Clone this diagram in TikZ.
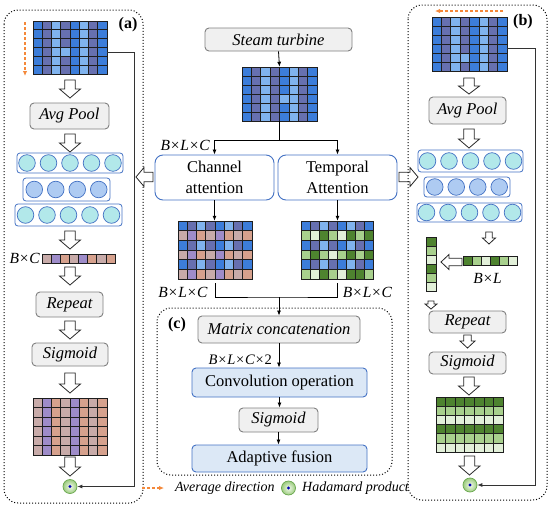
\documentclass[tikz,border=0pt]{standalone}
\usepackage{fontspec}
\setmainfont{Liberation Serif}
\usetikzlibrary{arrows.meta,calc}
\definecolor{bA}{HTML}{3C7DDA}
\definecolor{pA}{HTML}{6770B0}
\definecolor{lA}{HTML}{80B3EE}
\definecolor{pk}{HTML}{C8ABA9}
\definecolor{pu}{HTML}{9E8CC9}
\definecolor{sa}{HTML}{D6A18D}
\definecolor{dg}{HTML}{4E832F}
\definecolor{lg}{HTML}{A8D08D}
\definecolor{pg}{HTML}{E2F0D9}
\definecolor{cy}{HTML}{B2E8EA}
\definecolor{lbl}{HTML}{AECBF2}
\definecolor{bdr}{HTML}{4472C4}
\definecolor{gfill}{HTML}{F0F0F0}
\definecolor{gdraw}{HTML}{808080}
\definecolor{cfill}{HTML}{DCE8F6}
\definecolor{orng}{HTML}{F4883A}
\definecolor{gline}{HTML}{1E1E1E}
\definecolor{hadin}{HTML}{F2FAEC}
\definecolor{hadout}{HTML}{9CCB7E}
\definecolor{haddr}{HTML}{6AA84F}
\newcommand\cellgrid[5]{\foreach \rowc [count=\r from 0] in {#5}{\foreach \cc [count=\k from 0] in \rowc {\filldraw[fill=\cc,draw=gline,line width=0.7pt] ({#1+\k*#3},{#2+\r*#4}) rectangle ++(#3,#4);}}}
\newcommand\holarr[6]{\begin{scope}[shift={(#1,#2)},rotate=#3]
\draw[hol] ({-#5/4},0) -- ({#5/4},0) -- ({#5/4},{#4-#6}) -- ({#5/2},{#4-#6}) -- (0,#4) -- ({-#5/2},{#4-#6}) -- ({-#5/4},{#4-#6}) -- cycle;
\end{scope}}
\newcommand\circrow[7]{\node[crow, minimum width=#4, minimum height=#5] (#1) at (#2,#3) {};
\foreach \i in {1,...,#6} {\filldraw[fill=#7, draw=bdr, line width=0.7pt] ({#2+(\i-(#6+1)/2)*21.5},#3) circle (8.3pt);}}
\newcommand\bx{{\itshape B}\kern0.8pt×\kern0.8pt}
\tikzset{
 hol/.style={draw=black!85, fill=white, line width=0.8pt},
 crow/.style={draw=bdr, fill=white, rounded corners=3pt, line width=0.8pt, inner sep=0},
 gridn/.style={draw=none, inner sep=0},
 gbox/.style={draw=gdraw, fill=gfill, rounded corners=4pt, line width=0.9pt, inner sep=0, font=\itshape\fontsize{16.5}{19}\selectfont},
 abox/.style={draw=bdr, fill=white, rounded corners=8pt, line width=0.9pt, inner sep=0, align=center, font=\fontsize{16.5}{21}\selectfont},
 cbox/.style={draw=bdr, fill=cfill, rounded corners=4pt, line width=0.9pt, inner sep=0, font=\fontsize{16.5}{19}\selectfont},
 lab/.style={inner sep=0, font=\fontsize{15.5}{18}\selectfont},
 leg/.style={inner sep=0, font=\itshape\fontsize{14}{17}\selectfont},
 plab/.style={inner sep=0, font=\bfseries\fontsize{16}{19}\selectfont},
 panel/.style={draw=black, dotted, line width=1pt, rounded corners=14pt},
 arr/.style={draw=black, line width=0.8pt, -{Latex[length=5pt,width=4pt]}},
 conn/.style={draw=black!80, line width=0.8pt, -{Latex[length=5pt,width=4pt]}},
 avgdir/.style={draw=orng, line width=1.2pt, dash pattern=on 3pt off 2pt, -{Latex[length=5pt,width=4.5pt]}},
 had/.style={circle, minimum size=14pt, inner sep=0, draw=haddr, inner color=hadin, outer color=hadout, line width=0.7pt,
   path picture={\fill[blue!70!black] (path picture bounding box.center) circle (1.7pt);}},
}
\begin{document}
\begin{tikzpicture}[x=1pt,y=-1pt]
\useasboundingbox (0,0) rectangle (550,509);
\fill[white] (0,0) rectangle (550,509);
% ---------- panel (a)
\draw[panel] (4,10) rectangle (143,503);
\node[plab] (la) at (128,25) {(a)};
\draw[avgdir] (25,22) -- (25,76);
\node[gridn, minimum width=74, minimum height=53] (ga) at (70,47.5) {};
\cellgrid{33}{21}{9.25}{8.83}{{bA,pA,lA,pA,bA,lA,pA,bA},{bA,pA,lA,pA,bA,lA,pA,bA},{bA,pA,lA,pA,bA,lA,pA,bA},{bA,pA,lA,lA,bA,lA,pA,bA},{bA,pA,lA,pA,bA,lA,pA,bA},{bA,pA,lA,pA,bA,lA,pA,bA}}
\holarr{70}{80}{0}{18}{21}{9}
\node[gbox, minimum width=79, minimum height=26] (avgA) at (69.5,116) {Avg Pool};
\holarr{70}{134}{0}{18}{21}{9}
\circrow{ra1}{70}{163}{106}{20}{5}{cy}
\circrow{ra2}{66.5}{189.5}{87}{23}{4}{lbl}
\circrow{ra3}{68.5}{215}{107}{22}{5}{cy}
\holarr{70}{231}{0}{18}{21}{9}
\node[lab, anchor=east] (bcA) at (40,258.5) {\bx{\itshape C}};
\node[gridn, minimum width=73, minimum height=9] (barA) at (78.5,258.5) {};
\cellgrid{42}{254}{9.125}{9}{{pk,pu,sa,pk,pu,sa,pk,sa}}
\holarr{70}{267}{0}{18}{21}{9}
\node[gbox, minimum width=67, minimum height=25] (repA) at (69.5,304.5) {Repeat};
\holarr{70}{321}{0}{18}{21}{9}
\node[gbox, minimum width=76, minimum height=23] (sigA) at (70,354.5) {Sigmoid};
\holarr{70}{373}{0}{20}{21}{9}
\node[gridn, minimum width=74, minimum height=57] (goA) at (70,426.5) {};
\cellgrid{33}{398}{9.25}{9.5}{{pk,pu,sa,pk,pu,sa,pk,sa},{pk,pu,sa,pk,pu,sa,pk,sa},{pk,pu,sa,pk,pu,sa,pk,sa},{pk,pu,sa,pk,pu,sa,pk,sa},{pk,pu,sa,pk,pu,sa,pk,sa},{pk,pu,sa,pk,pu,sa,pk,sa}}
\holarr{70}{457}{0}{19}{21}{9}
\node[had] (hadA) at (70,486.5) {};
\draw[conn] ([yshift=-4.5pt]ga.east) -- ++(27,0) |- (hadA.east);
% ---------- center
\node[gbox, minimum width=147, minimum height=23] (steam) at (278.5,39.5) {Steam turbine};
\node[gridn, minimum width=75, minimum height=54] (g0) at (279.5,94) {};
\cellgrid{242}{67}{9.375}{9}{{bA,pA,lA,pA,bA,lA,pA,bA},{bA,pA,lA,pA,bA,lA,pA,bA},{bA,pA,lA,pA,bA,lA,pA,bA},{bA,pA,lA,pA,lA,lA,pA,bA},{bA,pA,lA,pA,bA,lA,pA,bA},{bA,pA,lA,pA,bA,lA,pA,bA}}
\draw[arr] (steam.south) -- (g0.north);
\node[abox, minimum width=119, minimum height=45] (chan) at (214.5,177.5) {Channel\\attention};
\node[abox, minimum width=119, minimum height=45] (temp) at (337.5,177.5) {Temporal\\Attention};
\coordinate (split) at (279.5,140);
\draw[line width=0.8pt] (g0.south) -- (split);
\draw[arr] (split) -| (chan.north);
\draw[arr] (split) -| (temp.north);
\node[lab, anchor=east] (lbl1) at (210,145) {\bx{\itshape L}\kern0.8pt×\kern0.8pt{\itshape C}};
\node[gridn, minimum width=74, minimum height=58] (gC) at (215,250) {};
\cellgrid{178}{221}{9.25}{9.67}{{bA,pA,lA,pA,bA,lA,pA,bA},{pk,pu,sa,pk,pu,sa,pk,sa},{bA,pA,lA,pA,bA,lA,pA,bA},{pk,pu,sa,pk,pu,sa,pk,sa},{bA,pA,lA,pA,bA,lA,pA,bA},{pk,pu,sa,pk,pu,sa,pk,sa}}
\node[gridn, minimum width=72, minimum height=58] (gT) at (337,250) {};
\cellgrid{301}{221}{9}{9.67}{{bA,pA,lA,pA,bA,lA,pA,bA},{lg,pg,dg,lg,pg,dg,lg,dg},{bA,pA,lA,pA,bA,lA,pA,bA},{lg,dg,lg,pg,lg,dg,lg,dg},{bA,pA,lA,pA,bA,lA,pA,bA},{lg,pg,dg,lg,pg,dg,dg,lg}}
\draw[arr] (chan.south) -- (chan.south |- gC.north);
\draw[arr] (temp.south) -- (temp.south |- gT.north);
\node[lab] (lbl2) at (183,292) {\bx{\itshape L}\kern0.8pt×\kern0.8pt{\itshape C}};
\node[lab] (lbl3) at (367.5,292) {\bx{\itshape L}\kern0.8pt×\kern0.8pt{\itshape C}};
\coordinate (merge) at (279,297);
\draw[line width=0.8pt] ([yshift=-4pt]gC.south) |- (merge) -| ([yshift=-4pt]gT.south);
% ---------- panel (c)
\draw[panel] (157,308) rectangle (392,475);
\node[plab] (lc) at (177,325) {(c)};
\node[gbox, minimum width=162, minimum height=27] (mc) at (279,329.5) {Matrix concatenation};
\node[cbox, minimum width=175, minimum height=29] (conv) at (279.5,382.5) {Convolution operation};
\node[gbox, minimum width=79, minimum height=24] (sigC) at (278.5,420) {Sigmoid};
\node[cbox, minimum width=175, minimum height=27] (fus) at (279.5,458.5) {Adaptive fusion};
\draw[arr] (merge) -- (mc.north);
\draw[arr] (mc.south) -- (mc.south |- conv.north);
\node[lab, anchor=east, font=\fontsize{14.5}{17}\selectfont] (lbl4) at (272,360) {\bx{\itshape L}\kern0.8pt×\kern0.8pt{\itshape C}\kern0.8pt×\kern0.8pt2};
\draw[arr] (conv.south) -- (conv.south |- sigC.north);
\draw[arr] (sigC.south) -- (sigC.south |- fus.north);
% ---------- legend
\draw[avgdir] (142,488) -- (164,488);
\node[leg, anchor=west] (lg1) at (175,488.5) {Average direction};
\node[had] (hadL) at (288.5,488) {};
\node[leg, anchor=west] (lg2) at (302,488.5) {Hadamard product};
% ---------- side arrows
\holarr{153}{177}{-90}{17}{19}{8}
\holarr{399}{177}{90}{19}{19}{8}
% ---------- panel (b)
\draw[panel] (408,5) rectangle (547,500);
\node[plab] (lb) at (523,22) {(b)};
\draw[avgdir] (503,11) -- (435,11);
\node[gridn, minimum width=75, minimum height=54] (gb) at (469.5,44) {};
\cellgrid{432}{17}{9.375}{9}{{bA,pA,lA,pA,bA,lA,pA,bA},{bA,pA,lA,pA,bA,lA,pA,bA},{bA,pA,lA,pA,bA,lA,pA,bA},{bA,pA,lA,pA,bA,lA,pA,bA},{bA,pA,lA,lA,bA,lA,pA,bA},{bA,pA,lA,pA,bA,lA,pA,bA}}
\holarr{469}{78}{0}{16}{21}{8}
\node[gbox, minimum width=77, minimum height=27] (avgB) at (467.5,110.5) {Avg Pool};
\holarr{469}{129}{0}{19}{21}{9}
\circrow{rb1}{470.5}{161}{105}{22}{5}{cy}
\circrow{rb2}{467}{187}{86}{20}{4}{lbl}
\circrow{rb3}{469.5}{212.5}{105}{19}{5}{cy}
\holarr{489}{232}{0}{12}{13}{6}
\node[gridn, minimum width=54, minimum height=9] (hbB) at (490,260.5) {};
\cellgrid{463}{256}{9}{9}{{dg,lg,pg,dg,lg,pg}}
\node[lab] (blB) at (487.5,278) {\bx{\itshape L}};
\holarr{462}{262}{-90}{21}{15}{8}
\node[gridn, minimum width=10, minimum height=54] (vbB) at (431,264) {};
\cellgrid{426}{237}{10}{9}{{dg},{lg},{pg},{dg},{lg},{pg}}
\holarr{431}{301}{0}{8}{12}{5}
\node[gbox, minimum width=77, minimum height=22] (repB) at (467.5,322) {Repeat};
\holarr{467.5}{335}{0}{13}{15}{7}
\node[gbox, minimum width=77, minimum height=22] (sigB) at (467.5,363) {Sigmoid};
\holarr{469}{377}{0}{18}{21}{9}
\node[gridn, minimum width=67, minimum height=55] (goB) at (469.5,424.5) {};
\cellgrid{436}{397}{9.57}{9.17}{{dg,dg,dg,dg,dg,dg,dg},{lg,lg,lg,lg,lg,lg,lg},{pg,pg,pg,pg,pg,pg,pg},{dg,dg,dg,dg,dg,dg,dg},{lg,lg,lg,lg,lg,lg,lg},{pg,pg,pg,pg,pg,pg,pg}}
\holarr{469.5}{456}{0}{19}{21}{9}
\node[had] (hadB) at (470,485) {};
\draw[conn] ([yshift=-4pt]gb.east) -- ++(28,0) |- (hadB.east);
\end{tikzpicture}
\end{document}
